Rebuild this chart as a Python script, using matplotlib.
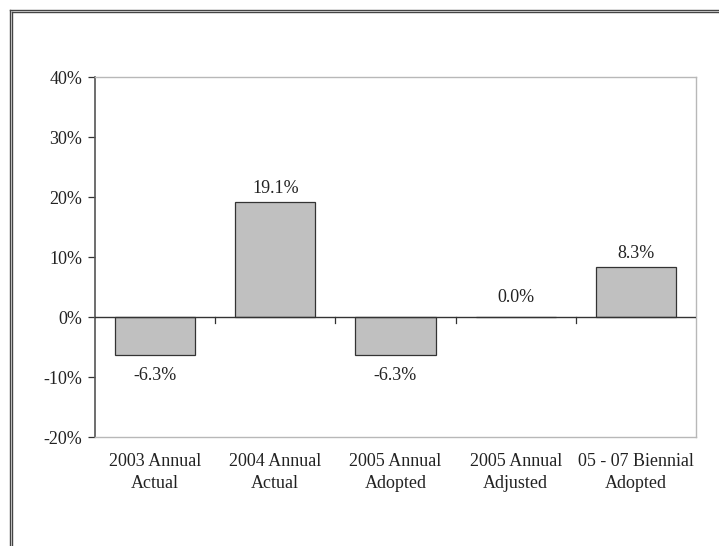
import matplotlib
matplotlib.use("Agg")
import matplotlib.pyplot as plt
from matplotlib.lines import Line2D
from matplotlib.ticker import FuncFormatter, FixedLocator

categories = ["2003 Annual\nActual", "2004 Annual\nActual", "2005 Annual\nAdopted",
              "2005 Annual\nAdjusted", "05 - 07 Biennial\nAdopted"]
values = [-6.3, 19.1, -6.3, 0.0, 8.3]
value_labels = ["-6.3%", "19.1%", "-6.3%", "0.0%", "8.3%"]
yticks = [-20, -10, 0, 10, 20, 30, 40]

plt.rcParams['font.family'] = ['Liberation Serif', 'DejaVu Serif']
fs = 13

W, H = 719, 546
fig = plt.figure(figsize=(W / 100, H / 100), dpi=100)
ax = fig.add_axes([95 / W, 1 - 437 / H, (696 - 95) / W, (437 - 77) / H])

x = list(range(len(categories)))
ax.bar(x, values, width=0.667, color="#c0c0c0", edgecolor="#333333", linewidth=0.9, zorder=3)

ax.set_xlim(-0.5, len(categories) - 0.5)
ax.set_ylim(-20, 40)
ax.yaxis.set_major_locator(FixedLocator(yticks))
ax.yaxis.set_major_formatter(FuncFormatter(lambda v, p: f"{int(v)}%"))
ax.tick_params(axis='y', direction='out', length=5, width=0.9, color="#333333",
               labelsize=fs, pad=4, labelcolor="#222222")
ax.set_xticks([])

for s in ['top', 'right', 'bottom']:
    ax.spines[s].set_color("#b8b8b8")
    ax.spines[s].set_linewidth(1.0)
ax.spines['left'].set_color("#555555")
ax.spines['left'].set_linewidth(1.2)

# zero line
ax.axhline(0, color="#333333", linewidth=1.0, zorder=4)
for b in [0.5, 1.5, 2.5, 3.5]:
    ax.plot([b, b], [0, -1.0], color="#333333", linewidth=0.9, zorder=4, clip_on=False)

# value labels
for xi, v, lab in zip(x, values, value_labels):
    if v > 0:
        ax.annotate(lab, (xi, v), xytext=(0, 4), textcoords="offset points",
                    ha="center", va="bottom", fontsize=fs, color="#222222")
    elif v < 0:
        ax.annotate(lab, (xi, v), xytext=(0, -9), textcoords="offset points",
                    ha="center", va="top", fontsize=fs, color="#222222")
    else:
        ax.annotate(lab, (xi, v), xytext=(0, 8), textcoords="offset points",
                    ha="center", va="bottom", fontsize=fs, color="#222222")

# category labels below
for xi, c in zip(x, categories):
    ax.text(xi, -22.6, c, ha="center", va="top",
            fontsize=fs, linespacing=1.45, color="#222222")

# outer double frame
for off in (9.5, 11.5):
    fig.add_artist(Line2D([off / W, 1], [1 - off / H, 1 - off / H], transform=fig.transFigure,
                          color="#444444", linewidth=1.0))
    fig.add_artist(Line2D([off / W, off / W], [0, 1 - off / H], transform=fig.transFigure,
                          color="#444444", linewidth=1.0))

fig.savefig("out.png", dpi=100)
